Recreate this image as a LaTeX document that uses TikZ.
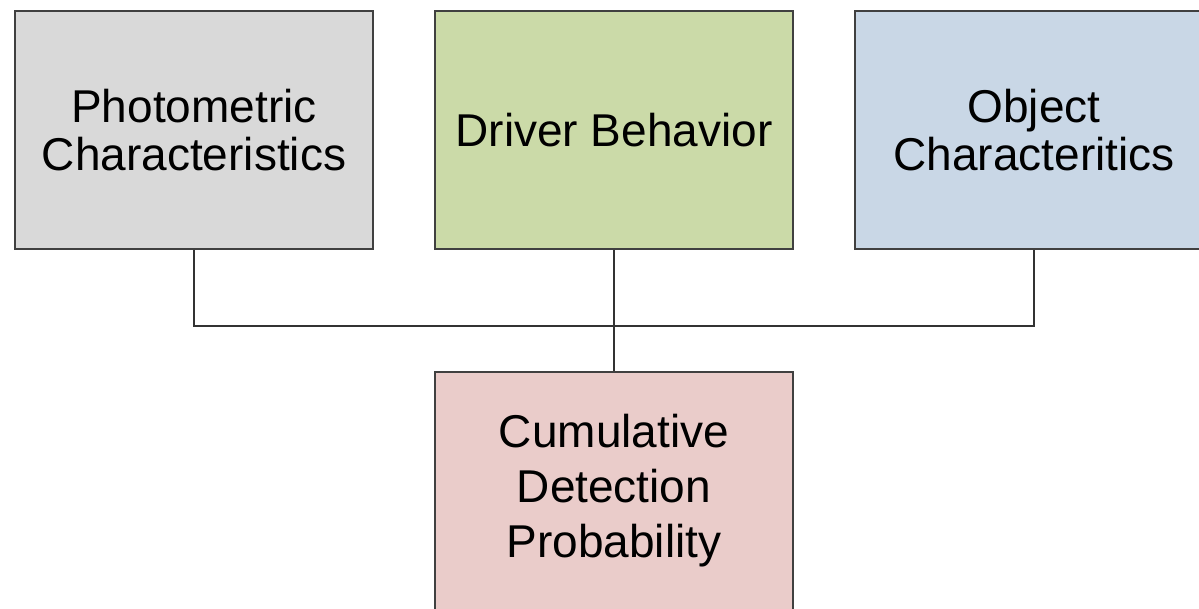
\documentclass[tikz,border=0pt]{standalone}
\usepackage{fontspec}
\setmainfont{Liberation Sans}

\definecolor{photogray}{RGB}{217,217,217}
\definecolor{drivergreen}{RGB}{203,218,168}
\definecolor{objectblue}{RGB}{201,215,230}
\definecolor{detectpink}{RGB}{234,204,202}

\begin{document}
\begin{tikzpicture}[x=1pt, y=-1pt]
		\tikzset{box/.style = {shape=rectangle, draw=black!75, line width=1.8pt, inner sep=0pt,
			minimum width=358pt, minimum height=238pt, align=center,
			font=\fontsize{46}{48}\selectfont},
			link/.style = {draw=black!80, line width=1.8pt}}

		\clip (0,0) rectangle (1199,608);

		\node[box, fill=photogray] (photo) at (194,130) {Photometric\\Characteristics};
		\node[box, fill=drivergreen] (driver) at (614,130) {Driver Behavior};
		\node[box, fill=objectblue] (object) at (1034,130) {Object\\Characteritics};

		\node[box, fill=detectpink, font=\fontsize{46}{55}\selectfont] (detect) at (614,491) {Cumulative\\Detection\\Probability};

		\coordinate (hub) at (614,326);



		\draw[link] (photo) |- (hub);
		\draw[link] (hub) -| (object);
		\draw[link] (driver)--(detect);

	\end{tikzpicture}
\end{document}
